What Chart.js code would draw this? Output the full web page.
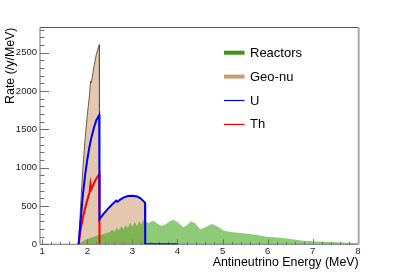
<!DOCTYPE html>
<html>
<head>
<meta charset="utf-8">
<script src="https://cdn.jsdelivr.net/npm/chart.js@4.4.1/dist/chart.umd.min.js"></script>
<style>
  html, body { margin: 0; padding: 0; background: #fff; }
  #c { display: block; }
</style>
</head>
<body>
<canvas id="c" width="399" height="272"></canvas>
<script>
// energies (MeV) and rates (/y/MeV)
const energyGeo = [1.806, 1.85, 1.9, 1.95, 2.0, 2.05, 2.07, 2.09, 2.15, 2.2, 2.265, 2.27, 2.35, 2.45, 2.55, 2.64, 2.67, 2.72, 2.8, 2.9, 3.0, 3.1, 3.18, 3.25, 3.28, 3.285, 4.0];
const uRate = [0, 300, 640, 900, 1110, 1280, 1340, 1390, 1530, 1620, 1688, 326, 390, 460, 520, 570, 555, 580, 610, 630, 634, 625, 600, 560, 543, 0, 0];
const thRate = [0, 190, 340, 470, 580, 680, 790, 720, 800, 860, 918, 0];
const geoRate = [0, 490, 980, 1370, 1690, 1960, 2130, 2110, 2330, 2480, 2606, 326, 390, 460, 520, 570, 555, 580, 610, 630, 634, 625, 600, 560, 543, 0];

const energyReactor = [1.8, 1.85, 1.9, 2.0, 2.1, 2.2, 2.3, 2.4, 2.5, 2.55, 2.6, 2.65, 2.7, 2.75, 2.8, 2.85, 2.9, 2.95, 3.0, 3.05, 3.1, 3.15, 3.2, 3.25, 3.3, 3.35, 3.4, 3.47, 3.55, 3.65, 3.75, 3.85, 3.91, 4.0, 4.13, 4.2, 4.31, 4.4, 4.5, 4.6, 4.76, 4.9, 5.02, 5.15, 5.24, 5.4, 5.61, 5.8, 5.98, 6.28, 6.5, 6.79, 7.1, 7.53, 8.0];
const reactorRate = [0, 25, 40, 70, 90, 110, 125, 140, 160, 190, 165, 215, 185, 235, 200, 250, 215, 280, 230, 290, 240, 300, 260, 320, 300, 275, 290, 308, 270, 240, 265, 310, 317, 290, 222, 245, 300, 270, 196, 215, 265, 230, 180, 165, 157, 148, 134, 118, 100, 86, 68, 47, 38, 26, 15];

const xTicks = [1, 2, 3, 4, 5, 6, 7, 8];
const yTicks = [0, 500, 1000, 1500, 2000, 2500];

const FONT = "'Liberation Sans', Arial, Helvetica, sans-serif";

function pts(xs, ys) {
  return ys.map((v, i) => ({ x: xs[i], y: v }));
}

// ROOT-like axes: ticks inside the frame, drawn under the translucent fills
const rootAxes = {
  id: 'rootAxes',
  beforeDatasetsDraw(chart) {
    const { ctx, chartArea: a } = chart;
    const x = chart.scales.x, y = chart.scales.y;
    ctx.save();
    ctx.lineWidth = 1;
    ctx.strokeStyle = '#707070';
    ctx.beginPath();
    for (let i = 5; i <= 40; i++) {
      const px = Math.round(x.getPixelForValue(i / 5)) + 0.5;
      const len = i % 5 === 0 ? 5 : 2.5;
      ctx.moveTo(px, a.bottom);
      ctx.lineTo(px, a.bottom - len);
    }
    for (let v = 0; v <= 2800; v += 100) {
      const py = Math.round(y.getPixelForValue(v)) + 0.5;
      const len = v % 500 === 0 ? 9 : 4.5;
      ctx.moveTo(a.left, py);
      ctx.lineTo(a.left + len, py);
    }
    ctx.stroke();
    ctx.beginPath();
    ctx.moveTo(a.left, a.bottom);
    ctx.lineTo(a.right, a.bottom);
    ctx.moveTo(a.left, a.top);
    ctx.lineTo(a.left, a.bottom);
    ctx.stroke();
    ctx.restore();
  },
  afterDraw(chart) {
    const { ctx, chartArea: a } = chart;
    ctx.save();
    ctx.strokeStyle = '#555';
    ctx.lineWidth = 1;
    ctx.beginPath();
    ctx.moveTo(a.left, a.top);
    ctx.lineTo(a.right, a.top);
    ctx.stroke();
    ctx.strokeStyle = '#aaa';
    ctx.lineWidth = 2;
    ctx.beginPath();
    ctx.moveTo(a.right, a.top);
    ctx.lineTo(a.right, a.bottom);
    ctx.stroke();

    // legend
    const items = [
      { label: 'Reactors', color: 'rgb(60,150,20)', w: 4 },
      { label: 'Geo-nu', color: 'rgb(205,155,105)', w: 4 },
      { label: 'U', color: 'rgb(0,0,255)', w: 1.2 },
      { label: 'Th', color: 'rgb(255,0,0)', w: 1.2 }
    ];
    ctx.font = '13px ' + FONT;
    ctx.textBaseline = 'middle';
    ctx.fillStyle = '#000';
    items.forEach((it, i) => {
      const yy = 52.7 + i * 23.9;
      ctx.strokeStyle = it.color;
      ctx.lineWidth = it.w;
      ctx.beginPath();
      ctx.moveTo(224, yy);
      ctx.lineTo(244.5, yy);
      ctx.stroke();
      ctx.fillText(it.label, 250, yy + 0.5);
    });
    ctx.restore();
  }
};

new Chart(document.getElementById('c'), {
  type: 'line',
  data: {
    datasets: [
      {
        label: 'U',
        data: pts(energyGeo, uRate),
        borderColor: 'rgb(0,0,255)',
        borderWidth: 2,
        pointRadius: 0,
        fill: false
      },
      {
        label: 'Th',
        data: pts(energyGeo, thRate),
        borderColor: 'rgb(255,0,0)',
        borderWidth: 2,
        pointRadius: 0,
        fill: false
      },
      {
        label: 'Reactors',
        data: pts(energyReactor, reactorRate),
        borderWidth: 0,
        borderColor: 'rgba(0,0,0,0)',
        backgroundColor: 'rgba(50,160,10,0.55)',
        pointRadius: 0,
        fill: 'origin'
      },
      {
        label: 'Geo-nu',
        data: pts(energyGeo, geoRate),
        borderColor: 'rgba(100,75,55,0.9)',
        borderWidth: 1,
        backgroundColor: 'rgba(200,145,95,0.5)',
        pointRadius: 0,
        fill: 'origin'
      }
    ]
  },
  options: {
    responsive: false,
    animation: false,
    devicePixelRatio: 1,
    layout: { padding: { top: 27.5, right: 40.3, left: 0, bottom: 0 } },
    plugins: {
      legend: { display: false },
      tooltip: { enabled: false }
    },
    scales: {
      x: {
        type: 'linear',
        min: 0.95,
        max: 8.02,
        grid: { display: false, drawTicks: false },
        border: { display: false },
        afterBuildTicks: s => { s.ticks = xTicks.map(v => ({ value: v })); },
        afterFit: s => { s.height = 27.7; },
        ticks: {
          autoSkip: false,
          maxRotation: 0,
          padding: 1,
          color: '#222',
          font: { family: FONT, size: 9.5 },
          callback: v => String(v)
        },
        title: {
          display: true,
          text: 'Antineutrino Energy (MeV)',
          align: 'end',
          color: '#000',
          font: { family: FONT, size: 12.4 },
          padding: { top: 0, bottom: 1.5 }
        }
      },
      y: {
        type: 'linear',
        min: 0,
        max: 2830,
        grid: { display: false, drawTicks: false },
        border: { display: false },
        afterBuildTicks: s => { s.ticks = yTicks.map(v => ({ value: v })); },
        afterFit: s => { s.width = 40; },
        ticks: {
          padding: 3,
          color: '#222',
          font: { family: FONT, size: 9.5 },
          callback: v => String(v)
        },
        title: {
          display: true,
          text: 'Rate (/y/MeV)',
          align: 'end',
          color: '#000',
          font: { family: FONT, size: 12.4 },
          padding: { top: 3.5, bottom: 0 }
        }
      }
    }
  },
  plugins: [rootAxes]
});
</script>
</body>
</html>
